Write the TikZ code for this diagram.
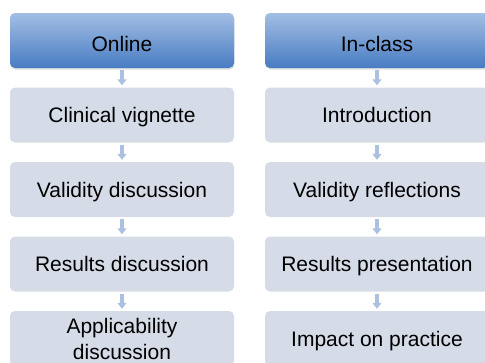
\documentclass[tikz,border=0pt]{standalone}
\usepackage{fontspec}
\setmainfont{Liberation Sans}
\usetikzlibrary{shadows,arrows.meta}
\definecolor{headtop}{RGB}{163,190,228}
\definecolor{headbot}{RGB}{72,124,194}
\definecolor{boxfill}{RGB}{213,219,231}
\definecolor{arrowfill}{RGB}{172,192,226}

\begin{document}
\begin{tikzpicture}[x=1pt,y=-1pt,
	stage/.style={rounded corners=5pt, minimum width=224pt, minimum height=55pt,
		inner sep=0pt, align=center, font=\fontsize{21}{26}\selectfont, fill=boxfill},
	oneline/.style={stage, text height=15pt, text depth=0pt},
	head/.style={stage, text height=22pt, text depth=0pt, top color=headtop, bottom color=headbot,
		drop shadow={opacity=0.25, shadow xshift=0.5pt, shadow yshift=-1.5pt}},
	flow/.style={line width=4pt, draw=arrowfill, -{Triangle[width=9pt,length=6pt]},
		shorten <=2pt, shorten >=2pt}]
%Columns:
% left  = online part, x = 122
% right = in-class part, x = 377
% rows 74.5 apart, first at y = 40.5
\useasboundingbox (0,0) rectangle (485,362);

\node[head] (l0) at (122,40.5) {Online};
\node[head] (r0) at (377,40.5) {In-class};

\foreach \n/\txt in {1/Clinical vignette, 2/Validity discussion, 3/Results discussion}
	\node[oneline] (l\n) at (122,40.5+74.5*\n) {\txt};
\node[stage, text height=41.6pt, text depth=0pt] (l4) at (122,338.5) {Applicability\\discussion};
\foreach \n/\txt in {1/Introduction, 2/Validity reflections, 3/Results presentation, 4/Impact on practice}
	\node[oneline] (r\n) at (377,40.5+74.5*\n) {\txt};

\foreach \m/\n in {0/1,1/2,2/3,3/4}
	\draw [flow] (l\m) -- (l\n);
\foreach \m/\n in {0/1,1/2,2/3,3/4}
	\draw [flow] (r\m) -- (r\n);

\end{tikzpicture}
\end{document}
